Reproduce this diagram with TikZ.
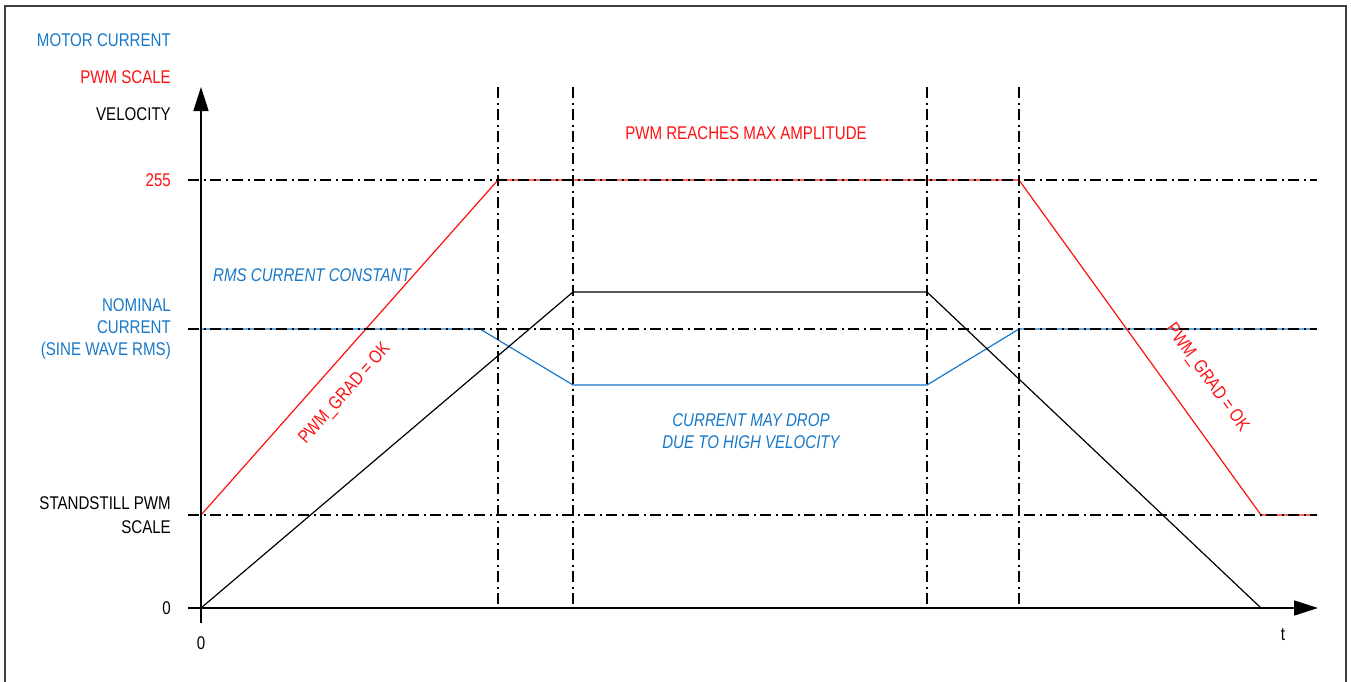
\documentclass[tikz,border=0pt]{standalone}
\usepackage{fontspec}
\setmainfont{Liberation Sans}[FakeStretch=0.82]
\usetikzlibrary{arrows.meta}
\definecolor{mblue}{RGB}{24,120,200}
\definecolor{mred}{RGB}{255,16,16}
\tikzset{
  lbl/.style={inner sep=0pt, font=\fontsize{18.4}{22}\selectfont},
  ylbl/.style={lbl, anchor=east, align=right},
  ddot/.style={black, line width=1.2pt, dash pattern=on 11pt off 4.5pt on 2pt off 4.5pt},
  curve/.style={line width=1.2pt},
  axis/.style={black, line width=1.5pt, -{Triangle[length=24pt,width=15pt]}},
}
\begin{document}
\begin{tikzpicture}[x=1pt,y=-1pt]
\useasboundingbox (0,0) rectangle (1351,681);
% frame
\draw[black!75, line width=1.5pt] (5,682) -- (5,6) -- (1346,6) -- (1346,682);

% key coordinates
\coordinate (o) at (201,608);
\coordinate (ss) at (201,515);
\coordinate (nom) at (201,329);
\coordinate (r1) at (498,180);
\coordinate (r2) at (1019,180);
\coordinate (r3) at (1261,515);
\coordinate (r4) at (1317,515);
\coordinate (v1) at (573,292);
\coordinate (v2) at (927,292);
\coordinate (v3) at (1261,608);
\coordinate (b1) at (480,329);
\coordinate (b2) at (573,385);
\coordinate (b3) at (927,385);
\coordinate (b4) at (1019,329);
\coordinate (b5) at (1317,329);

% curves
\draw[curve, mblue] (nom) -- (b1) -- (b2) -- (b3) -- (b4) -- (b5);
\draw[curve, black] (o) -- (v1) -- (v2) -- (v3);
\draw[curve, mred] (ss) -- (r1) -- (r2) -- (r3) -- (r4);

% dash-dot guides
\coordinate (h1a) at (188,180); \coordinate (h1b) at (1317,180);
\coordinate (h2a) at (188,329); \coordinate (h2b) at (1317,329);
\coordinate (h3a) at (188,515); \coordinate (h3b) at (1317,515);
\draw[ddot] (h1a) -- (h1b);
\draw[ddot] (h2a) -- (h2b);
\draw[ddot] (h3a) -- (h3b);
\foreach \xx/\nm in {498/va,573/vb,927/vc,1019/vd}{
  \coordinate (\nm t) at (\xx,87);
  \coordinate (\nm b) at (\xx,606);
  \draw[ddot] (\nm t) -- (\nm b);
}

% axes
\coordinate (ya) at (201,623); \coordinate (yb) at (201,87);
\coordinate (xa) at (188,608); \coordinate (xb) at (1318,608);
\draw[axis] (ya) -- (yb);
\draw[axis] (xa) -- (xb);

% y labels
\node[ylbl, mblue] (lmc) at (171,40) {MOTOR CURRENT};
\node[ylbl, mred] (lpwm) at (171,77) {PWM SCALE};
\node[ylbl, black] (lvel) at (171,114) {VELOCITY};
\node[ylbl, mred] (l255) at (171,180) {255};
\node[ylbl, mblue] (lnom) at (171,329) {NOMINAL\\CURRENT\\(SINE WAVE RMS)};
\node[ylbl, black, font=\fontsize{18.4}{23.5}\selectfont] (lss) at (171,515) {STANDSTILL PWM\\SCALE};
\node[ylbl, black] (l0) at (171,608) {0};
\node[lbl, black] (x0) at (201,643) {0};
\node[lbl, black] (lt) at (1283,635) {t};

% annotations
\node[lbl, mred] (max) at (746,133) {PWM REACHES MAX AMPLITUDE};
\node[lbl, mblue, anchor=west, font=\fontsize{18.4}{22}\selectfont\itshape] (rms) at (213,275) {RMS CURRENT CONSTANT};
\node[lbl, mblue, align=center, font=\fontsize{18.4}{22}\selectfont\itshape] (drop) at (751,431) {CURRENT MAY DROP\\DUE TO HIGH VELOCITY};
\node[lbl, mred, rotate=48.4] (g1) at (345,394) {PWM\_GRAD = OK};
\node[lbl, mred, rotate=-54] (g2) at (1207,378) {PWM\_GRAD = OK};
\end{tikzpicture}
\end{document}
